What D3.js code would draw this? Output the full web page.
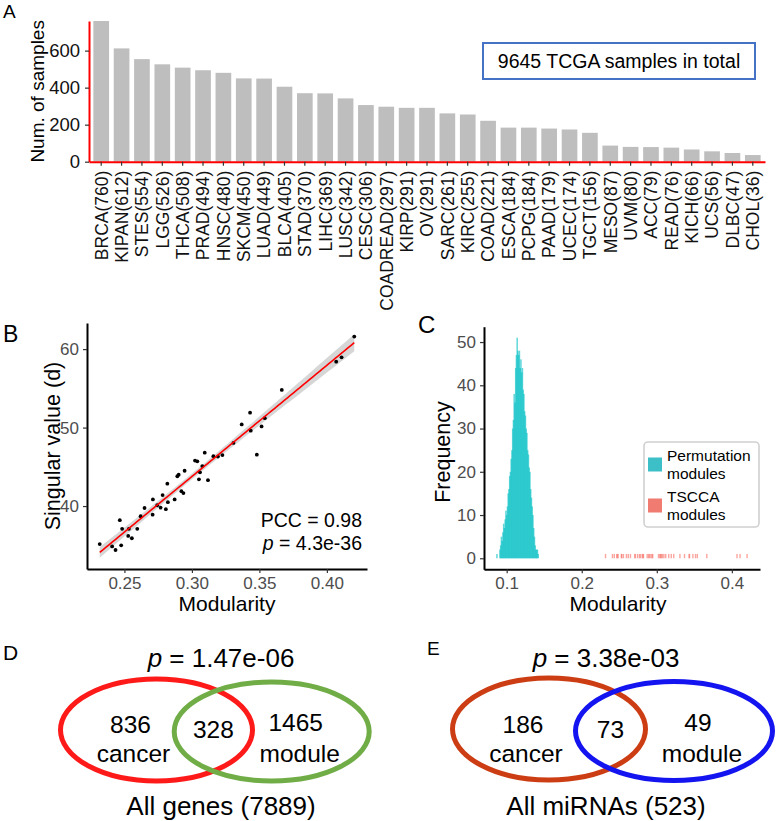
<!DOCTYPE html>
<html><head><meta charset="utf-8">
<script src="https://cdn.jsdelivr.net/npm/d3@7"></script>
<style>
body{margin:0;background:#fff}
svg{display:block}
text{font-family:"Liberation Sans",Arial,Helvetica,sans-serif}
</style>
</head><body>
<svg id="chart" width="777" height="821"></svg>
<script>
// ---------- Panel A data ----------
const cancerTypes = ["BRCA","KIPAN","STES","LGG","THCA","PRAD","HNSC","SKCM","LUAD","BLCA","STAD","LIHC","LUSC","CESC","COADREAD","KIRP","OV","SARC","KIRC","COAD","ESCA","PCPG","PAAD","UCEC","TGCT","MESO","UVM","ACC","READ","KICH","UCS","DLBC","CHOL"];
const sampleCounts = [760,612,554,526,508,494,480,450,449,405,370,369,342,306,297,291,291,261,255,221,184,184,179,174,156,87,80,79,76,66,56,47,36];
const sampleTicks = [0,200,400,600];
const totalText = "9645 TCGA samples in total";

// ---------- Panel B data ----------
const moduleModularity = [0.2317,0.2409,0.2434,0.2466,0.2483,0.2476,0.2528,0.2533,0.2555,0.2595,0.2620,0.2649,0.2709,0.2711,0.2743,0.2768,0.2783,0.2807,0.2818,0.2822,0.2872,0.2892,0.2902,0.2922,0.2937,0.2946,0.3023,0.3040,0.3052,0.3060,0.3077,0.3095,0.3119,0.3159,0.3193,0.3226,0.3308,0.3369,0.3431,0.3436,0.3481,0.3516,0.3540,0.3666,0.4069,0.4109,0.4203];
const moduleSingular   = [35.15,34.85,34.4,38.2,37.1,35.0,36.2,37.1,35.9,37.1,38.7,39.75,38.9,40.85,40.1,39.8,41.4,39.6,42.85,40.5,40.85,43.8,44.0,41.9,41.65,44.5,45.8,45.7,43.4,44.3,45.1,46.8,43.3,46.35,46.3,46.5,48.05,50.4,51.9,49.6,46.55,50.15,51.2,54.8,58.4,58.95,61.6];
const bXTicks = [0.25,0.30,0.35,0.40];
const bYTicks = [40,50,60];
const pccText = "PCC = 0.98";
const pccP = "4.3e-36";

// ---------- Panel C data ----------
const binWidth = 0.001;
const permBins   = [0.087,0.091,0.092,0.093,0.094,0.095,0.096,0.097,0.098,0.099,0.100,0.101,0.102,0.103,0.104,0.105,0.106,0.107,0.108,0.109,0.110,0.111,0.112,0.113,0.114,0.115,0.116,0.117,0.118,0.119,0.120,0.121,0.122,0.123,0.124,0.125,0.126,0.127,0.128,0.129,0.130,0.131,0.132,0.133,0.134,0.135,0.136,0.137,0.138,0.139,0.140,0.141,0.142];
const permCounts = [1,2,3,5,4,6,8,7,9,11,10,12,15,16,19,20,23,25,30,32,38,36,44,47,51,48,47,48,44,46,43,44,39,38,34,33,30,29,25,24,21,20,16,14,12,10,7,5,3,2,2,2,1];
const cXTicks = [0.1,0.2,0.3,0.4];
const cYTicks = [0,10,20,30,40,50];
const cLegend = [["Permutation","modules"],["TSCCA","modules"]];

// ---------- Panels D/E data ----------
const geneVenn = [836,328,1465];
const geneTotal = "All genes (7889)";
const geneP = "1.47e-06";
const mirVenn = [186,73,49];
const mirTotal = "All miRNAs (523)";
const mirP = "3.38e-03";
const vennSetNames = ["cancer","module"];

const FONT = '"Liberation Sans",Arial,Helvetica,sans-serif';
const svg = d3.select("#chart");

function panelLabel(t,x,y,size){
  svg.append("text").attr("x",x).attr("y",y).attr("font-size",size).attr("fill","#000").text(t);
}
function styleAxis(g, lineColor, tickColor, textColor, size){
  g.attr("font-family",FONT);
  g.select(".domain").attr("stroke",lineColor).attr("stroke-width",2);
  g.selectAll(".tick line").attr("stroke",tickColor).attr("stroke-width",1.2);
  g.selectAll(".tick text").attr("fill",textColor).attr("font-size",size);
}

// ================= Panel A =================
const A = {l:89, r:765, t:21, b:161.7};
const xA = d3.scaleBand().domain(cancerTypes).range([A.l,A.r]).paddingInner(0.23).paddingOuter(0.215);
const yA = d3.scaleLinear().domain([0,d3.max(sampleCounts)]).range([A.b,A.t]);
svg.append("g").selectAll("rect").data(cancerTypes).join("rect")
  .attr("x",d=>xA(d)).attr("width",xA.bandwidth())
  .attr("y",(d,i)=>yA(sampleCounts[i])).attr("height",(d,i)=>A.b-yA(sampleCounts[i]))
  .attr("fill","#bebebe");
const axAx = svg.append("g").attr("transform",`translate(0,${A.b})`)
  .call(d3.axisBottom(xA).tickSize(4).tickSizeOuter(0).tickFormat((d,i)=>`${d}(${sampleCounts[i]})`));
styleAxis(axAx,"#ff0000","#333","#111",17.5);
axAx.selectAll(".tick text").attr("transform","rotate(-90)").attr("text-anchor","end")
  .attr("x",-9).attr("y",0).attr("dy","0.36em");
const axAy = svg.append("g").attr("transform",`translate(${A.l},0)`)
  .call(d3.axisLeft(yA).tickValues(sampleTicks).tickSize(4).tickPadding(5).tickSizeOuter(0));
styleAxis(axAy,"#ff0000","#333","#111",18.5);
svg.append("text").attr("transform",`translate(37,${(A.t+A.b)/2}) rotate(-90)`)
  .attr("text-anchor","middle").attr("dy","0.35em").attr("font-size",19).text("Num. of samples");
svg.append("rect").attr("x",483).attr("y",43).attr("width",272).attr("height",36)
  .attr("fill","#fff").attr("stroke","#4472c4").attr("stroke-width",2);
svg.append("text").attr("x",619).attr("y",61).attr("dy","0.36em").attr("text-anchor","middle")
  .attr("font-size",19.5).text(totalText);
panelLabel("A",3,18,19);

// ================= Panel B =================
const B = {l:87, r:367, t:323, b:569};
const n = moduleModularity.length;
const mx = d3.mean(moduleModularity), my = d3.mean(moduleSingular);
let sxx=0, sxy=0;
for(let i=0;i<n;i++){ sxx += (moduleModularity[i]-mx)**2; sxy += (moduleModularity[i]-mx)*(moduleSingular[i]-my); }
const b1 = sxy/sxx, b0 = my - b1*mx;
let sse=0;
for(let i=0;i<n;i++){ sse += (moduleSingular[i]-(b0+b1*moduleModularity[i]))**2; }
const sRes = Math.sqrt(sse/(n-2)), tq = 2.014;
const xExt = d3.extent(moduleModularity);
const fitPts = d3.range(81).map(k=>{
  const x = xExt[0] + (xExt[1]-xExt[0])*k/80;
  const f = b0 + b1*x;
  const se = sRes*Math.sqrt(1/n + (x-mx)**2/sxx);
  return {x, f, lo:f-tq*se, hi:f+tq*se};
});
const yAll = moduleSingular.concat(fitPts.map(p=>p.lo), fitPts.map(p=>p.hi));
const yExt = d3.extent(yAll);
const xPad = (xExt[1]-xExt[0])*0.05, yPad = (yExt[1]-yExt[0])*0.05;
const xB = d3.scaleLinear().domain([xExt[0]-xPad, xExt[1]+xPad]).range([B.l,B.r]);
const yB = d3.scaleLinear().domain([yExt[0]-yPad, yExt[1]+yPad]).range([B.b,B.t]);
svg.append("path").datum(fitPts)
  .attr("d",d3.area().x(p=>xB(p.x)).y0(p=>yB(p.lo)).y1(p=>yB(p.hi)))
  .attr("fill","#999").attr("fill-opacity",0.4);
svg.append("g").selectAll("circle").data(moduleModularity).join("circle")
  .attr("cx",d=>xB(d)).attr("cy",(d,i)=>yB(moduleSingular[i])).attr("r",1.9).attr("fill","#000");
svg.append("path").datum(fitPts)
  .attr("d",d3.line().x(p=>xB(p.x)).y(p=>yB(p.f)))
  .attr("fill","none").attr("stroke","#ff0000").attr("stroke-width",1.6);
const axBx = svg.append("g").attr("transform",`translate(0,${B.b})`)
  .call(d3.axisBottom(xB).tickValues(bXTicks).tickFormat(d3.format(".2f")).tickSize(4).tickSizeOuter(0).tickPadding(4));
styleAxis(axBx,"#000","#333","#4d4d4d",17);
const axBy = svg.append("g").attr("transform",`translate(${B.l},0)`)
  .call(d3.axisLeft(yB).tickValues(bYTicks).tickSize(4).tickSizeOuter(0).tickPadding(4));
styleAxis(axBy,"#000","#333","#4d4d4d",17);
svg.append("text").attr("transform",`translate(52,${(B.t+B.b)/2}) rotate(-90)`)
  .attr("text-anchor","middle").attr("dy","0.35em").attr("font-size",21.5).text("Singular value (d)");
svg.append("text").attr("x",(B.l+B.r)/2).attr("y",604).attr("dy","0.35em").attr("text-anchor","middle")
  .attr("font-size",21).text("Modularity");
svg.append("text").attr("x",362).attr("y",520).attr("dy","0.35em").attr("text-anchor","end")
  .attr("font-size",19.5).text(pccText);
const pT = svg.append("text").attr("x",362).attr("y",543).attr("dy","0.35em").attr("text-anchor","end").attr("font-size",19.5);
pT.append("tspan").attr("font-style","italic").text("p");
pT.append("tspan").text(" = "+pccP);
panelLabel("B",3,342,23);

// ================= Panel C =================
const C = {l:484, r:760, t:326.7, b:569.3};
const cxMin = d3.min(permBins)-binWidth/2, cxMax = d3.max(moduleModularity)+binWidth/2;
const cPadX = (cxMax-cxMin)*0.05;
const xC = d3.scaleLinear().domain([cxMin-cPadX, cxMax+cPadX]).range([C.l,C.r]);
const cyMax = d3.max(permCounts);
const yC = d3.scaleLinear().domain([-cyMax*0.05, cyMax*1.05]).range([C.b,C.t]);
const bwPx = xC(binWidth)-xC(0);
svg.append("g").selectAll("rect").data(permBins).join("rect")
  .attr("x",d=>xC(d)-bwPx).attr("width",bwPx*2)
  .attr("y",(d,i)=>yC(permCounts[i])).attr("height",(d,i)=>yC(0)-yC(permCounts[i]))
  .attr("fill","#00bfc4").attr("fill-opacity",0.62);
svg.append("g").selectAll("rect").data(moduleModularity).join("rect")
  .attr("x",d=>xC(d)-0.7).attr("width",1.4)
  .attr("y",yC(1)).attr("height",yC(0)-yC(1))
  .attr("fill","#f8766d").attr("fill-opacity",0.65);
const axCx = svg.append("g").attr("transform",`translate(0,${C.b})`)
  .call(d3.axisBottom(xC).tickValues(cXTicks).tickFormat(d3.format(".1f")).tickSize(4).tickSizeOuter(0).tickPadding(4));
styleAxis(axCx,"#000","#333","#4d4d4d",17);
const axCy = svg.append("g").attr("transform",`translate(${C.l},0)`)
  .call(d3.axisLeft(yC).tickValues(cYTicks).tickSize(4).tickSizeOuter(0).tickPadding(4));
styleAxis(axCy,"#000","#333","#4d4d4d",17);
svg.append("text").attr("transform",`translate(442,452) rotate(-90)`)
  .attr("text-anchor","middle").attr("dy","0.35em").attr("font-size",21.5).text("Frequency");
svg.append("text").attr("x",618).attr("y",604).attr("dy","0.35em").attr("text-anchor","middle")
  .attr("font-size",21).text("Modularity");
svg.append("rect").attr("x",644).attr("y",442).attr("width",115).attr("height",85).attr("rx",4)
  .attr("fill","#fff").attr("stroke","#d0d0d0").attr("stroke-width",1.6);
const legColors = ["#3dbfc7","#f07b70"];
cLegend.forEach((lines,k)=>{
  const y0 = 456 + k*41;
  svg.append("rect").attr("x",648).attr("y",y0+1.5).attr("width",14).attr("height",14).attr("fill",legColors[k]);
  lines.forEach((ln,j)=>{
    svg.append("text").attr("x",667).attr("y",y0+j*18).attr("dy","0.35em").attr("font-size",15.5).text(ln);
  });
});
panelLabel("C",418,333,24);

// ================= Panels D & E =================
function venn(vals, total, pval, c1, c2, e1, e2, pX){
  svg.append("ellipse").attr("cx",e1[0]).attr("cy",e1[1]).attr("rx",e1[2]).attr("ry",e1[3])
    .attr("fill","none").attr("stroke",c1).attr("stroke-width",5);
  svg.append("ellipse").attr("cx",e2[0]).attr("cy",e2[1]).attr("rx",e2[2]).attr("ry",e2[3])
    .attr("fill","none").attr("stroke",c2).attr("stroke-width",5);
  const t = svg.append("text").attr("x",pX).attr("y",658).attr("dy","0.35em").attr("text-anchor","middle").attr("font-size",26);
  t.append("tspan").attr("font-style","italic").text("p");
  t.append("tspan").text(" = "+pval);
  const leftX = e1[0]-26, rightX = e2[0]+26, midX = (e1[0]+e1[2]+e2[0]-e2[2])/2;
  const fs = 24.5;
  svg.append("text").attr("x",leftX).attr("y",724).attr("dy","0.35em").attr("text-anchor","middle").attr("font-size",fs).text(vals[0]);
  svg.append("text").attr("x",leftX+3).attr("y",753.5).attr("dy","0.35em").attr("text-anchor","middle").attr("font-size",fs).text(vennSetNames[0]);
  svg.append("text").attr("x",midX).attr("y",729).attr("dy","0.35em").attr("text-anchor","middle").attr("font-size",fs).text(vals[1]);
  svg.append("text").attr("x",rightX-2).attr("y",722).attr("dy","0.35em").attr("text-anchor","middle").attr("font-size",fs).text(vals[2]);
  svg.append("text").attr("x",rightX+2).attr("y",753.5).attr("dy","0.35em").attr("text-anchor","middle").attr("font-size",fs).text(vennSetNames[1]);
  svg.append("text").attr("x",pX).attr("y",806).attr("dy","0.35em").attr("text-anchor","middle").attr("font-size",26).text(total);
}
venn(geneVenn, geneTotal, geneP, "#ff1a1a", "#70ad47", [156.5,730,96,51], [271.7,731.5,97.5,49.5], 221);
venn(mirVenn, mirTotal, mirP, "#cc3d14", "#1414f0", [549,729,96.5,51], [674,731,98.5,49.5], 606);
panelLabel("D",3,660,21);
panelLabel("E",427,655,19);
</script>
</body></html>
